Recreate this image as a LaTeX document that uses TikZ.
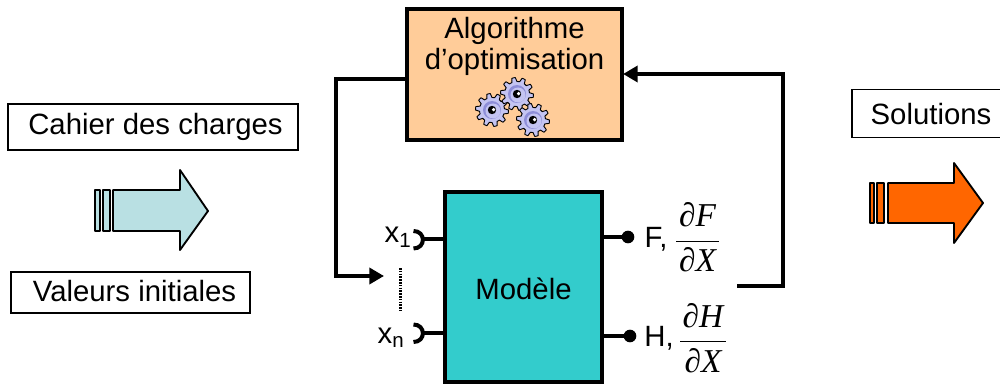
\documentclass[tikz,border=0pt]{standalone}
\usepackage{fontspec}
\setmainfont{Liberation Sans}
\newfontfamily\mathserif[ItalicFont=Liberation Serif Italic]{Liberation Serif}
\usetikzlibrary{arrows.meta}
\definecolor{algofill}{HTML}{FFCC99}
\definecolor{modelfill}{HTML}{33CCCC}
\definecolor{paleteal}{HTML}{B9E0E3}
\definecolor{solorange}{HTML}{FF6600}
\definecolor{gearfill}{HTML}{C4C4F2}
\definecolor{geardark}{HTML}{8E8ED8}
\newcommand{\partfrac}[2]{$\displaystyle\frac{\hbox{\kern2pt\mathserif\itshape ∂#1\kern2pt}}{\hbox{\kern2pt\mathserif\itshape ∂#2\kern2pt}}$}
\tikzset{
  x=0.75pt,y=-0.75pt,
  txt/.style={font=\fontsize{22}{26}\selectfont,inner sep=0pt,text=black},
  labelbox/.style={draw=black,line width=1.3pt,fill=white,outer sep=0pt,inner sep=0pt},
  mainbox/.style={draw=black,line width=3pt,outer sep=0pt,inner sep=0pt},
  conn/.style={draw=black,line width=3pt},
  wire/.style={draw=black,line width=2.3pt},
  sock/.style={draw=black,line width=3pt},
  bigarrow/.style={draw=black,line width=1.4pt,line join=round},
  outdot/.style={circle,fill=black,minimum size=9.5pt,inner sep=0pt,outer sep=0pt},
  gearpic/.pic={
    \draw[fill=gearfill,line width=0.7pt,line join=round] plot[samples=61,domain=0:360] (\x:{mod(\x+3,36)<18?16.5:12.5}) -- cycle;
    \fill[geardark] (0,0) circle (9);
    \fill[gearfill] (1,1) circle (7.5);
    \fill[black] (0,0) circle (4.2);
    \fill[white] (1.6,-0.4) circle (1.8);
  }
}
\begin{document}
\begin{tikzpicture}
\path[use as bounding box,clip] (0,0) rectangle (1000,385);
\fill[white] (0,0) rectangle (1000,385);

% main boxes
\node[mainbox,fill=algofill,minimum width=161.25pt,minimum height=97.5pt] (algo) at (514.5,74.5) {};
\node[txt,align=center] (algotext) at (514.5,31) {Algorithme};
\node[txt,align=center] (algotext2) at (514.5,62) {d’optimisation};
\pic at (492,110) {gearpic};
\pic at (517,94) {gearpic};
\pic at (533,120) {gearpic};

\node[mainbox,fill=modelfill,minimum width=117.75pt,minimum height=142.5pt] (model) at (523.5,287) {};
\node[txt] (modeltext) at (523.5,289) {Modèle};

% label boxes
\node[labelbox,minimum width=217.5pt,minimum height=34.5pt] (cahier) at (153,127) {};
\node[txt] at (155.5,127) {Cahier des charges};
\node[labelbox,minimum width=179.25pt,minimum height=30.75pt] (valeurs) at (130.5,292.5) {};
\node[txt] at (134.5,291.5) {Valeurs initiales};
\node[labelbox,minimum width=116pt,minimum height=36pt] (solutions) at (929,113.5) {};
\node[txt] at (931,114) {Solutions};

% big arrows
\draw[bigarrow,fill=paleteal] (95,190) rectangle (100,231);
\draw[bigarrow,fill=paleteal] (103,190) rectangle (110,231);
\draw[bigarrow,fill=paleteal] (113,190) -- (180,190) -- (180,170) -- (208,211) -- (180,250) -- (180,231) -- (113,231) -- cycle;
\draw[bigarrow,fill=solorange] (870,183) rectangle (874,223);
\draw[bigarrow,fill=solorange] (877,183) rectangle (884,223);
\draw[bigarrow,fill=solorange] (888,183) -- (954,183) -- (954,163) -- (983,203) -- (954,243) -- (954,223) -- (888,223) -- cycle;

% feedback connectors
\coordinate (inarrow) at (384,276);
\coordinate (fbstart) at (737,286);
\draw[conn,line join=miter,-{Triangle[length=11pt,width=12pt]}] (algo.west |- 0,79) -| (335.5,276) -- (inarrow);
\draw[conn,line join=miter,shorten >=0.8pt,-{Triangle[length=11pt,width=12pt]}] (fbstart) -| (783,74) -- (algo.east |- 0,74);

% inputs
\coordinate (x1s) at (423,239);
\coordinate (xns) at (423,333);
\draw[wire] (model.west |- x1s) -- (x1s);
\draw[wire] (model.west |- xns) -- (xns);
\draw[sock] (413.5,231) .. controls (426,231) and (426,248.5) .. (413.5,248.5);
\draw[sock] (413.5,324.5) .. controls (426,324.5) and (426,342) .. (413.5,342);
\node[txt] (x1) at (398,237) {x\textsubscript{1}};
\node[txt] (xn) at (391,338) {x\textsubscript{n}};
\coordinate (dota) at (400.5,268);
\coordinate (dotb) at (400.5,311);
\draw[draw=black,line width=2.6pt,dash pattern=on 1.2pt off 0.9pt] (dota) -- (dotb);

% outputs
\node[outdot] (fdot) at (628,237) {};
\node[outdot] (hdot) at (630,336) {};
\draw[wire] (model.east |- fdot) -- (fdot);
\draw[wire] (model.east |- hdot) -- (hdot);
\node[txt] (ftext) at (656,239) {F,};
\node[txt] (htext) at (659,338) {H,};
\node[font=\fontsize{25}{28}\selectfont,inner sep=0pt] (ffrac) at (697.5,237.5) {\partfrac{F}{X}};
\node[font=\fontsize{25}{28}\selectfont,inner sep=0pt] (hfrac) at (703,338) {\partfrac{H}{X}};
\end{tikzpicture}
\end{document}
